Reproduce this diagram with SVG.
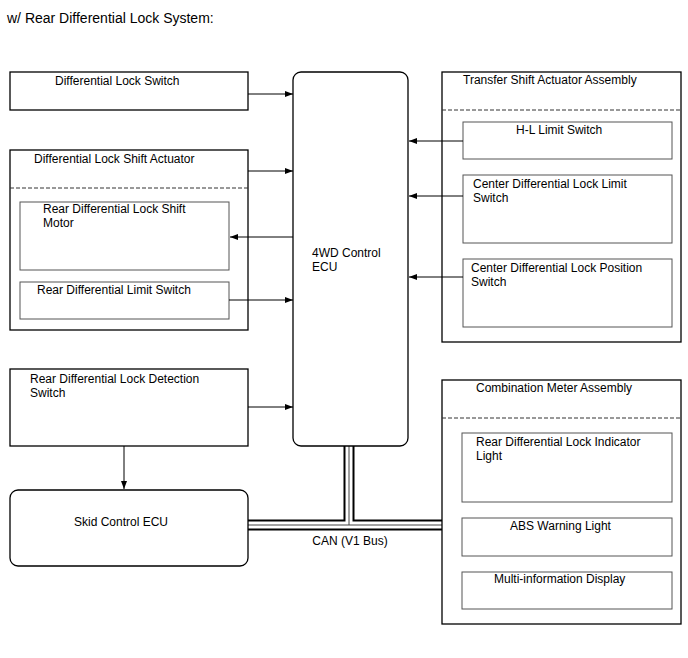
<svg xmlns="http://www.w3.org/2000/svg" width="688" height="658" viewBox="0 0 688 658">
<style>
text{font-family:"Liberation Sans",Arial,sans-serif;font-size:12px;fill:#000}
.title{font-size:14px}
.outer{fill:#fff;stroke:#000;stroke-width:1.3}
.inner{fill:#fff;stroke:#555;stroke-width:1}
.dash{stroke:#333;stroke-width:1;stroke-dasharray:4,2;fill:none}
.conn{stroke:#000;stroke-width:1;fill:none}
.busA{stroke:#000;stroke-width:11;fill:none}
.busB{stroke:#fff;stroke-width:7;fill:none}
.busC{stroke:#444;stroke-width:1;fill:none}
</style>
<defs>
<marker id="ah" markerWidth="8" markerHeight="6" refX="8" refY="3" orient="auto" markerUnits="userSpaceOnUse">
<path d="M0,0 L8,3 L0,6 Z" fill="#000"/>
</marker>
</defs>
<rect width="688" height="658" fill="#fff"/>
<text class="title" x="7" y="23">w/ Rear Differential Lock System:</text>

<g id="bus">
<path class="busA" d="M248,525 H442 M349,446 V525"/>
<path class="busB" d="M248,525 H442 M349,446 V525"/>
<path class="busC" d="M248,525 H442 M349,446 V525"/>
</g>

<g id="dls">
<rect class="outer" x="10" y="72" width="238" height="38"/>
<text x="55" y="85">Differential Lock Switch</text>
</g>

<g id="dlsa">
<rect class="outer" x="10" y="150" width="238" height="180"/>
<line class="dash" x1="10" y1="188" x2="248" y2="188"/>
<text x="34" y="163">Differential Lock Shift Actuator</text>
</g>
<g id="motor">
<rect class="inner" x="20" y="202" width="209" height="68"/>
<text x="43" y="213">Rear Differential Lock Shift</text>
<text x="43" y="227">Motor</text>
</g>
<g id="rdls">
<rect class="inner" x="20" y="282" width="209" height="37"/>
<text x="37" y="294">Rear Differential Limit Switch</text>
</g>

<g id="ecu4wd">
<rect class="outer" x="293" y="72" width="115" height="374" rx="8"/>
<text x="312" y="257">4WD Control</text>
<text x="312" y="271">ECU</text>
</g>

<g id="tsaa">
<rect class="outer" x="442" y="72" width="239" height="270"/>
<line class="dash" x1="442" y1="110" x2="681" y2="110"/>
<text x="463" y="84">Transfer Shift Actuator Assembly</text>
</g>
<g id="hl">
<rect class="inner" x="463" y="122" width="209" height="37"/>
<text x="516" y="134">H-L Limit Switch</text>
</g>
<g id="cdll">
<rect class="inner" x="463" y="175" width="209" height="68"/>
<text x="473" y="188">Center Differential Lock Limit</text>
<text x="473" y="202">Switch</text>
</g>
<g id="cdlp">
<rect class="inner" x="463" y="259" width="209" height="68"/>
<text x="471" y="272">Center Differential Lock Position</text>
<text x="471" y="286">Switch</text>
</g>

<g id="rdlds">
<rect class="outer" x="10" y="369" width="238" height="77"/>
<text x="30" y="383">Rear Differential Lock Detection</text>
<text x="30" y="397">Switch</text>
</g>

<g id="skid">
<rect class="outer" x="10" y="490" width="238" height="76" rx="8"/>
<text x="74" y="526">Skid Control ECU</text>
</g>

<g id="cma">
<rect class="outer" x="442" y="380" width="239" height="244"/>
<line class="dash" x1="442" y1="418" x2="681" y2="418"/>
<text x="476" y="392">Combination Meter Assembly</text>
</g>
<g id="rdli">
<rect class="inner" x="462" y="433" width="210" height="69"/>
<text x="476" y="446">Rear Differential Lock Indicator</text>
<text x="476" y="460">Light</text>
</g>
<g id="abs">
<rect class="inner" x="462" y="518" width="210" height="38"/>
<text x="510" y="530">ABS Warning Light</text>
</g>
<g id="mid">
<rect class="inner" x="462" y="572" width="210" height="37"/>
<text x="494" y="583">Multi-information Display</text>
</g>

<text x="350" y="545" text-anchor="middle">CAN (V1 Bus)</text>

<g id="connectors">
<line class="conn" x1="248" y1="94" x2="293" y2="94" marker-end="url(#ah)"/>
<line class="conn" x1="248" y1="171" x2="293" y2="171" marker-end="url(#ah)"/>
<line class="conn" x1="293" y1="237" x2="230" y2="237" marker-end="url(#ah)"/>
<line class="conn" x1="229" y1="300" x2="293" y2="300" marker-end="url(#ah)"/>
<line class="conn" x1="248" y1="407" x2="293" y2="407" marker-end="url(#ah)"/>
<line class="conn" x1="124" y1="446" x2="124" y2="489" marker-end="url(#ah)"/>
<line class="conn" x1="463" y1="141" x2="409" y2="141" marker-end="url(#ah)"/>
<line class="conn" x1="463" y1="196" x2="409" y2="196" marker-end="url(#ah)"/>
<line class="conn" x1="463" y1="277" x2="409" y2="277" marker-end="url(#ah)"/>
</g>
</svg>
